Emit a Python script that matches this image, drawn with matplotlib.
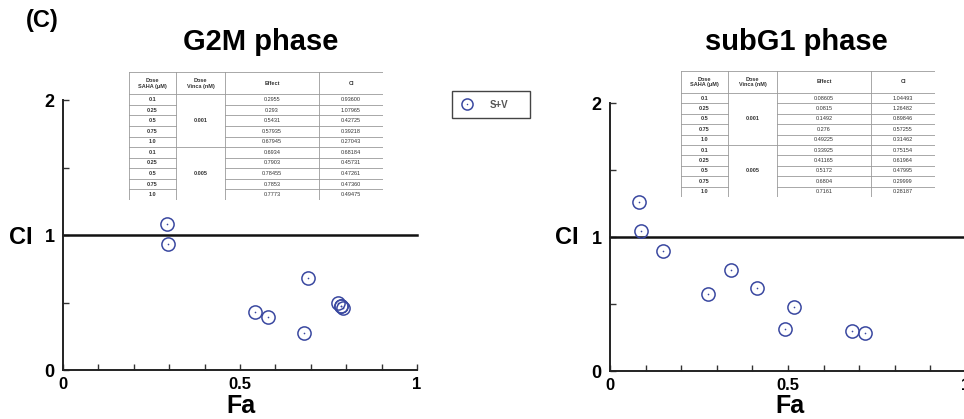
import matplotlib
matplotlib.use("Agg")
import matplotlib.pyplot as plt
from matplotlib.lines import Line2D
from matplotlib.patches import Rectangle

plt.rcParams['font.family'] = ['Liberation Sans', 'DejaVu Sans']

# ---- data ----
saha_doses = ["0.1", "0.25", "0.5", "0.75", "1.0"]
vinca_doses = ["0.001", "0.005"]

g2m_effect = [0.2955, 0.293, 0.5431, 0.57935, 0.67945,
              0.6934, 0.7903, 0.78455, 0.7853, 0.7773]
g2m_ci = [0.93600, 1.07965, 0.42725, 0.39218, 0.27043,
          0.68184, 0.45731, 0.47261, 0.47360, 0.49475]

subg1_effect = [0.08605, 0.0815, 0.1492, 0.276, 0.49225,
                0.33925, 0.41165, 0.5172, 0.6804, 0.7161]
subg1_ci = [1.04493, 1.26482, 0.89846, 0.57255, 0.31462,
            0.75154, 0.61964, 0.47995, 0.29999, 0.28187]

effect_text_g2m = ["0.2955", "0.293", "0.5431", "0.57935", "0.67945",
                   "0.6934", "0.7903", "0.78455", "0.7853", "0.7773"]
ci_text_g2m = ["0.93600", "1.07965", "0.42725", "0.39218", "0.27043",
               "0.68184", "0.45731", "0.47261", "0.47360", "0.49475"]
effect_text_sub = ["0.08605", "0.0815", "0.1492", "0.276", "0.49225",
                   "0.33925", "0.41165", "0.5172", "0.6804", "0.7161"]
ci_text_sub = ["1.04493", "1.26482", "0.89846", "0.57255", "0.31462",
               "0.75154", "0.61964", "0.47995", "0.29999", "0.28187"]

panel_titles = ["G2M phase", "subG1 phase"]
series_label = "S+V"

W, H = 964, 419
MARK = "#3a48a0"

fig = plt.figure(figsize=(W / 100, H / 100), dpi=100)


def fx(x):
    return x / W


def fy(y):
    return 1 - y / H


def px_rect(x0, y0, x1, y1):
    """Convert a pixel box (top-left origin) to figure fractions."""
    return [x0 / W, 1 - y1 / H, (x1 - x0) / W, (y1 - y0) / H]


def draw_panel(rect, fa, ci, title, title_xy, cilab_x, fa_x):
    ax = fig.add_axes(rect)
    ax.set_xlim(0, 1)
    ax.set_ylim(0, 2)
    for s in ("top", "right"):
        ax.spines[s].set_visible(False)
    for s in ("left", "bottom"):
        ax.spines[s].set_linewidth(1.4)
        ax.spines[s].set_color("#222222")
    ax.set_xticks([0, 0.5, 1])
    ax.set_xticklabels(["0", "0.5", "1"], fontsize=12, fontweight="bold")
    ax.set_xticks([i / 10 for i in range(1, 10) if i != 5], minor=True)
    ax.set_yticks([0, 1, 2])
    ax.set_yticklabels(["0", "1", "2"], fontsize=13, fontweight="bold")
    ax.set_yticks([0.5, 1.5], minor=True)
    ax.tick_params(axis="x", which="both", direction="in", length=4,
                   width=1, pad=5, color="#333333")
    ax.tick_params(axis="y", which="both", direction="in", length=4,
                   width=1, pad=6, color="#333333")
    ax.axhline(1, color="#111111", lw=1.8, clip_on=False)
    ax.plot(fa, ci, ls="none", marker="o", ms=9.5, mfc="none",
            mec=MARK, mew=1.1, clip_on=False)
    ax.plot(fa, ci, ls="none", marker="o", ms=1.2, mfc=MARK,
            mec=MARK, mew=0, clip_on=False)
    fig.text(fx(fa_x), fy(406), "Fa", fontsize=18, fontweight="bold",
             ha="center", va="center")
    fig.text(fx(title_xy[0]), fy(title_xy[1]), title, fontsize=21,
             fontweight="bold", ha="center", va="center")
    fig.text(fx(cilab_x), fy(237), "CI", fontsize=17,
             fontweight="bold", ha="center", va="center")
    return ax


def draw_table(box, effect_txt, ci_txt):
    x0, y0, x1, y1 = box
    tax = fig.add_axes(px_rect(x0, y0, x1, y1))
    tax.set_axis_off()
    widths = [47, 49, 94, 64]
    total = sum(widths)
    header_h = 2.1
    nrows = 10
    tax.set_xlim(0, total)
    tax.set_ylim(nrows + header_h, 0)
    edges = [0]
    for w in widths:
        edges.append(edges[-1] + w)
    lc = "#9a9a9a"
    lw = 0.6
    top = 0
    bottom = nrows + header_h
    # outer frame and vertical lines
    for e in edges:
        tax.plot([e, e], [top, bottom], color=lc, lw=lw)
    tax.plot([0, total], [top, top], color=lc, lw=lw)
    tax.plot([0, total], [bottom, bottom], color=lc, lw=lw)
    # horizontal rules; the Vinca column is merged within each group
    for r in range(nrows):
        y = header_h + r
        if r in (0, 5):
            tax.plot([0, total], [y, y], color=lc, lw=lw)
        else:
            tax.plot([edges[0], edges[1]], [y, y], color=lc, lw=lw)
            tax.plot([edges[2], edges[4]], [y, y], color=lc, lw=lw)
    fs = 4.0
    tc = "#333333"
    heads = ["Dose\nSAHA (\u03bcM)", "Dose\nVinca (nM)", "Effect", "CI"]
    for i, h in enumerate(heads):
        tax.text((edges[i] + edges[i + 1]) / 2, header_h / 2, h,
                 ha="center", va="center", fontsize=fs, color=tc,
                 fontweight="bold", linespacing=1.2)
    for r in range(nrows):
        yc = header_h + r + 0.5
        tax.text((edges[0] + edges[1]) / 2, yc, saha_doses[r % 5],
                 ha="center", va="center", fontsize=fs, color=tc,
                 fontweight="bold")
        tax.text((edges[2] + edges[3]) / 2, yc, effect_txt[r],
                 ha="center", va="center", fontsize=fs, color=tc)
        tax.text((edges[3] + edges[4]) / 2, yc, ci_txt[r],
                 ha="center", va="center", fontsize=fs, color=tc)
    for g in range(2):
        tax.text((edges[1] + edges[2]) / 2, header_h + g * 5 + 2.5,
                 vinca_doses[g], ha="center", va="center", fontsize=fs,
                 color=tc, fontweight="bold")


# left panel
draw_panel(px_rect(63, 100, 417, 370), g2m_effect, g2m_ci,
           panel_titles[0], (261, 42), 21, 241)
draw_table((129, 72, 383, 200), effect_text_g2m, ci_text_g2m)

# right panel (runs off the right edge of the figure)
draw_panel(px_rect(610, 103, 966, 371), subg1_effect, subg1_ci,
           panel_titles[1], (796, 42), 567, 790)
draw_table((681, 71, 935, 197), effect_text_sub, ci_text_sub)

# panel letter
fig.text(fx(42), fy(21), "(C)", fontsize=17, fontweight="bold",
         ha="center", va="center")

# legend box
fig.add_artist(Rectangle((fx(452), fy(118)), fx(530) - fx(452),
                         fy(91) - fy(118), transform=fig.transFigure,
                         fill=False, edgecolor="#444444", lw=1.0))
fig.add_artist(Line2D([fx(467)], [fy(104.5)], ls="none", marker="o",
                      ms=8, mfc="none", mec=MARK, mew=1.1,
                      transform=fig.transFigure))
fig.add_artist(Line2D([fx(467)], [fy(104.5)], ls="none", marker="o",
                      ms=1.1, mfc=MARK, mec=MARK, mew=0,
                      transform=fig.transFigure))
fig.text(fx(499), fy(104.5), series_label, fontsize=7, fontweight="bold",
         color="#555555", ha="center", va="center")

fig.savefig("out.png", dpi=100)
